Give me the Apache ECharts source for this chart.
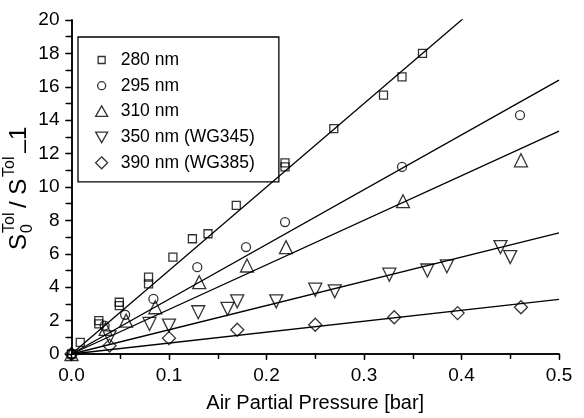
<!DOCTYPE html>
<html>
<head>
<meta charset="utf-8">
<script src="https://cdn.jsdelivr.net/npm/echarts@6/dist/echarts.min.js"></script>
<style>
html,body{margin:0;padding:0;background:#fff;}
#chart{width:584px;height:418px;}
</style>
</head>
<body>
<div id="chart"></div>
<script>
// ---- data ----
var seriesNames = ['280 nm', '295 nm', '310 nm', '350 nm (WG345)', '390 nm (WG385)'];
var data280 = [[0,0],[0.009,0.7],[0.028,2.0],[0.028,1.8],[0.049,3.1],[0.049,2.9],[0.079,4.6],[0.079,4.2],[0.104,5.8],[0.124,6.9],[0.14,7.2],[0.169,8.9],[0.219,11.45],[0.219,11.2],[0.269,13.5],[0.32,15.5],[0.339,16.6],[0.36,18.0]];
var data295 = [[0,0],[0.034,1.7],[0.055,2.35],[0.084,3.3],[0.129,5.2],[0.179,6.4],[0.219,7.9],[0.339,11.2],[0.46,14.3]];
var data310 = [[0,0],[0.035,1.5],[0.056,2.0],[0.086,2.8],[0.131,4.3],[0.18,5.3],[0.22,6.4],[0.34,9.15],[0.461,11.6]];
var data350 = [[0,-0.1],[0.039,1.0],[0.08,1.8],[0.1,1.7],[0.13,2.5],[0.16,2.7],[0.17,3.15],[0.21,3.15],[0.25,3.85],[0.27,3.75],[0.326,4.75],[0.365,5.0],[0.385,5.25],[0.44,6.4],[0.45,5.8]];
var data390 = [[0,0],[0.039,0.5],[0.1,0.95],[0.17,1.45],[0.25,1.75],[0.331,2.2],[0.396,2.45],[0.461,2.8]];
var fitSlopes = [50, 32.8, 26.7, 14.5, 6.55];
var xTicks = [0, 0.1, 0.2, 0.3, 0.4, 0.5];
var yTicks = [0, 2, 4, 6, 8, 10, 12, 14, 16, 18, 20];

var allData = [data280, data295, data310, data350, data390];
var symbols = ['rect', 'circle', 'triangle', 'triangle', 'diamond'];
var rotates = [0, 0, 0, 180, 0];
var sizes = [8, 9, 13, 13, 13];
var legendIcons = [
  'path://M0,0M14,14M3.5,3.5L10.5,3.5L10.5,10.5L3.5,10.5Z',
  'path://M0,0M14,14M11,7A4,4,0,1,1,3,7A4,4,0,1,1,11,7Z',
  'path://M0,0M14,14M7,1.5L13,12L1,12Z',
  'path://M0,0M14,14M1,2L13,2L7,12.5Z',
  'path://M0,0M14,14M7,1L13,7L7,13L1,7Z'
];

var FONT = 'Liberation Sans, Arial, sans-serif';
var chart = echarts.init(document.getElementById('chart'), null, {renderer: 'canvas'});

var series = [];
allData.forEach(function (d, i) {
  series.push({
    name: seriesNames[i], type: 'scatter', data: d,
    symbol: symbols[i], symbolSize: sizes[i], symbolRotate: rotates[i],
    itemStyle: {color: 'rgba(255,255,255,0)', borderColor: '#000', borderWidth: 1.3},
    z: 3
  });
});
fitSlopes.forEach(function (s) {
  series.push({
    type: 'line', data: [[xTicks[0], 0], [xTicks[xTicks.length - 1], s * xTicks[xTicks.length - 1]]],
    symbol: 'none', clip: true, silent: true,
    lineStyle: {color: '#000', width: 1.3}, z: 2
  });
});

var axisCommon = {
  axisLine: {show: true, lineStyle: {color: '#000', width: 1.5}},
  splitLine: {show: false}
};

var option = {
  animation: false,
  backgroundColor: '#fff',
  grid: {left: 71.5, right: 25, top: 20, bottom: 58, containLabel: false},
  legend: {
    data: seriesNames.map(function (n, i) { return {name: n, icon: legendIcons[i], symbolRotate: 0}; }),
    orient: 'vertical', left: 78, top: 37,
    padding: [14, 24, 10, 16], itemGap: 7.7, itemWidth: 14, itemHeight: 14,
    symbolRotate: 0,
    itemStyle: {color: 'rgba(255,255,255,0)', borderColor: '#000', borderWidth: 1.3},
    borderColor: '#000', borderWidth: 1.3,
    textStyle: {fontFamily: FONT, fontSize: 17.5, color: '#000', lineHeight: 14, padding: [0, 0, 0, 7]}
  },
  xAxis: [
    Object.assign({type: 'value', min: 0, max: 0.5, interval: 0.1, position: 'bottom',
      axisTick: {show: true, inside: false, length: 6, lineStyle: {color: '#000', width: 1.3}},
      minorTick: {show: true, splitNumber: 2, length: 4, lineStyle: {color: '#000', width: 1.3}},
      axisLabel: {margin: 12, fontFamily: FONT, fontSize: 19, color: '#000',
        formatter: function (v) { return v.toFixed(1); }},
      name: 'Air Partial Pressure [bar]', nameLocation: 'middle', nameGap: 39,
      nameTextStyle: {fontFamily: FONT, fontSize: 20, color: '#000'}
    }, axisCommon),
    Object.assign({type: 'value', min: 0, max: 0.5, interval: 0.1, position: 'top',
      axisTick: {show: true, inside: true, length: 5, lineStyle: {color: '#000', width: 1.3}},
      minorTick: {show: true, splitNumber: 2, length: 5, lineStyle: {color: '#000', width: 1.3}},
      axisLabel: {show: false}
    }, axisCommon)
  ],
  yAxis: [
    Object.assign({type: 'value', min: 0, max: 20, interval: 2, position: 'left',
      axisTick: {show: true, inside: false, length: 6, lineStyle: {color: '#000', width: 1.3}},
      minorTick: {show: true, splitNumber: 2, length: 4, lineStyle: {color: '#000', width: 1.3}},
      axisLabel: {margin: 12, fontFamily: FONT, fontSize: 19, color: '#000'}
    }, axisCommon),
    Object.assign({type: 'value', min: 0, max: 20, interval: 2, position: 'right',
      axisTick: {show: true, inside: true, length: 6, lineStyle: {color: '#000', width: 1.3}},
      minorTick: {show: true, splitNumber: 2, length: 6, lineStyle: {color: '#000', width: 1.3}},
      axisLabel: {show: false}
    }, axisCommon)
  ],
  graphic: [{
    type: 'group', x: 31, y: 250, rotation: Math.PI / 2,
    children: [
      {type: 'text', x: 0, y: 0, style: {text: 'S', fontFamily: FONT, fontSize: 24, fill: '#000', verticalAlign: 'bottom'}},
      {type: 'text', x: 17, y: 5, style: {text: '0', fontFamily: FONT, fontSize: 16, fill: '#000', verticalAlign: 'bottom'}},
      {type: 'text', x: 17, y: -13, style: {text: 'Tol', fontFamily: FONT, fontSize: 16, fill: '#000', verticalAlign: 'bottom'}},
      {type: 'text', x: 42, y: 0, style: {text: '/ S', fontFamily: FONT, fontSize: 24, fill: '#000', verticalAlign: 'bottom'}},
      {type: 'text', x: 73, y: -13, style: {text: 'Tol', fontFamily: FONT, fontSize: 16, fill: '#000', verticalAlign: 'bottom'}},
      {type: 'text', x: 97, y: 5, style: {text: '\u2013', fontFamily: FONT, fontSize: 24, fill: '#000', verticalAlign: 'bottom'}},
      {type: 'text', x: 110, y: 0, style: {text: '1', fontFamily: FONT, fontSize: 24, fill: '#000', verticalAlign: 'bottom'}}
    ]
  }],
  series: series
};
chart.setOption(option);
</script>
</body>
</html>
